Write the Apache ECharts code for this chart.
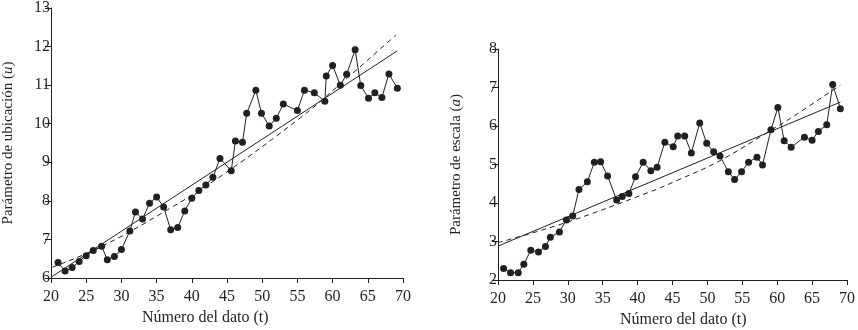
<!DOCTYPE html>
<html>
<head>
<meta charset="utf-8">
<script src="https://cdn.jsdelivr.net/npm/echarts@6/dist/echarts.min.js"></script>
<style>
  html, body { margin: 0; padding: 0; background: #fff; }
  #chart { width: 858px; height: 330px; }
</style>
</head>
<body>
<div id="chart"></div>
<script>
// parámetro de ubicación (u)
const uTime = [21, 22, 23, 24, 25, 26, 27.2, 28, 29, 30, 31.2, 32, 33, 34, 35, 36, 37, 38, 39, 40,
  41, 42, 43, 44, 45.6, 46.2, 47.2, 47.8, 49.1, 49.9, 51, 52, 53, 55, 56, 57.4, 58.9, 59.1, 60, 61.1,
  62, 63.2, 64, 65.1, 66, 67, 68, 69.2];
const uValues = [6.40, 6.18, 6.27, 6.43, 6.58, 6.71, 6.82, 6.47, 6.56, 6.74, 7.22, 7.71, 7.53, 7.94, 8.10, 7.84, 7.25, 7.31, 7.74, 8.07,
  8.27, 8.41, 8.61, 9.10, 8.78, 9.55, 9.52, 10.27, 10.87, 10.27, 9.94, 10.14, 10.51, 10.34, 10.87, 10.80, 10.58, 11.24, 11.51, 11.00,
  11.28, 11.92, 10.99, 10.66, 10.80, 10.68, 11.29, 10.92];
const uLineT = [20, 69.2];
const uLine = [6.02, 11.89];
const uDashT = [20.2, 27, 36.2, 44.2, 55.4, 60.6, 69];
const uDash = [6.28, 6.80, 7.73, 8.65, 10.15, 10.95, 12.30];

// parámetro de escala (a)
const aTime = [20.8, 21.8, 22.9, 23.7, 24.7, 25.8, 26.8, 27.5, 28.8, 29.8, 30.7, 31.6, 32.8, 33.8, 34.7, 35.7, 37, 37.8, 38.75, 39.7,
  40.8, 41.9, 42.8, 43.9, 45.1, 45.75, 46.75, 47.7, 48.9, 49.9, 50.9, 51.8, 53, 53.9, 54.9, 55.9, 57.1, 57.9, 59.1, 60.1,
  61, 62, 63.9, 65, 65.9, 67.1, 67.95, 69.05];
const aValues = [2.30, 2.19, 2.19, 2.41, 2.77, 2.73, 2.87, 3.11, 3.25, 3.56, 3.66, 4.35, 4.55, 5.06, 5.07, 4.70, 4.08, 4.17, 4.25, 4.68,
  5.06, 4.84, 4.93, 5.58, 5.46, 5.74, 5.74, 5.30, 6.08, 5.55, 5.33, 5.22, 4.81, 4.61, 4.81, 5.06, 5.19, 4.99, 5.90, 6.48,
  5.62, 5.45, 5.71, 5.63, 5.86, 6.03, 7.08, 6.45];
const aLineT = [20, 69.05];
const aLine = [2.88, 6.62];
const aDashT = [20, 29.7, 41.5, 45.85, 51.8, 59, 61.9, 69.05];
const aDash = [2.97, 3.49, 4.27, 4.60, 5.10, 5.88, 6.20, 7.06];

const xTicks = { min: 20, max: 70, interval: 5 };

const zip = (xs, ys) => xs.map((x, i) => [x, ys[i]]);

const ink = "#231f20";
const font = "Liberation Serif";

const chart = echarts.init(document.getElementById("chart"));

const xAxisBase = (gridIndex) => ({
  type: "value",
  gridIndex: gridIndex,
  min: xTicks.min,
  max: xTicks.max,
  interval: xTicks.interval,
  splitLine: { show: false },
  axisLine: { lineStyle: { color: ink, width: 1 } },
  axisTick: { length: 5, lineStyle: { color: ink } },
  axisLabel: { color: ink, fontFamily: font, fontSize: 16, margin: 11 },
});

const yAxisBase = (gridIndex, min, max, name, nameGap) => ({
  type: "value",
  gridIndex: gridIndex,
  min: min,
  max: max,
  interval: 1,
  splitLine: { show: false },
  axisLine: { show: true, lineStyle: { color: ink, width: 1 } },
  axisTick: { show: true, length: 6, lineStyle: { color: ink } },
  axisLabel: { color: ink, fontFamily: font, fontSize: 16, margin: 1 },
  name: name,
  nameLocation: "middle",
  nameGap: nameGap,
  nameTextStyle: {
    color: ink,
    fontFamily: font,
    fontSize: 15,
    rich: { i: { fontStyle: "italic", fontFamily: font, fontSize: 15, color: ink } },
  },
});

const pointSeries = (idx, data) => ({
  type: "line",
  xAxisIndex: idx,
  yAxisIndex: idx,
  data: data,
  symbol: "circle",
  symbolSize: 7,
  itemStyle: { color: ink },
  lineStyle: { color: ink, width: 1 },
  z: 5,
  animation: false,
});

const trendSeries = (idx, data, dashed) => ({
  type: "line",
  xAxisIndex: idx,
  yAxisIndex: idx,
  data: data,
  symbol: "none",
  smooth: dashed ? 0.4 : false,
  lineStyle: { color: ink, width: 1, type: dashed ? [5, 4] : "solid" },
  z: 3,
  animation: false,
});

const option = {
  backgroundColor: "#fff",
  animation: false,
  grid: [
    { left: 49, right: 455, top: 7, bottom: 52 },
    { left: 498, right: 8, top: 49, bottom: 50 },
  ],
  xAxis: [xAxisBase(0), xAxisBase(1)],
  yAxis: [
    yAxisBase(0, 6, 13, "Parámetro de ubicación ({i|u})", 35),
    yAxisBase(1, 2, 8, "Parámetro de escala ({i|a})", 34),
  ],
  graphic: [
    {
      type: "text",
      left: 142,
      top: 310,
      style: { text: "Número del dato (t)", fill: ink, font: "16px " + font },
    },
    {
      type: "text",
      left: 620,
      top: 312,
      style: { text: "Número del dato (t)", fill: ink, font: "16px " + font },
    },
  ],
  series: [
    trendSeries(0, zip(uLineT, uLine), false),
    trendSeries(0, zip(uDashT, uDash), true),
    pointSeries(0, zip(uTime, uValues)),
    trendSeries(1, zip(aLineT, aLine), false),
    trendSeries(1, zip(aDashT, aDash), true),
    pointSeries(1, zip(aTime, aValues)),
  ],
};

chart.setOption(option);
</script>
</body>
</html>
